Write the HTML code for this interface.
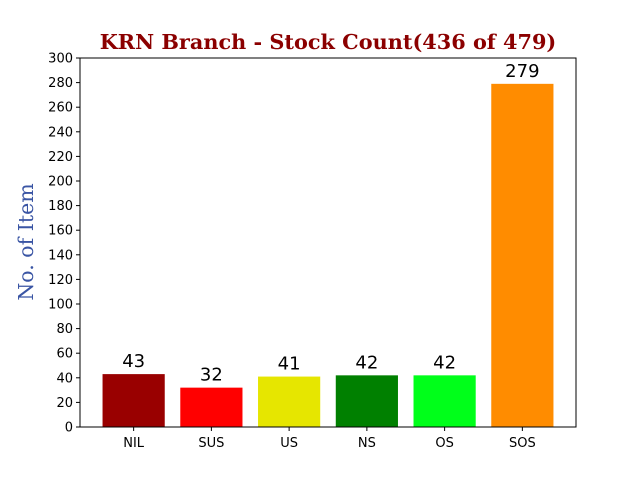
<!DOCTYPE html>
<html><head><meta charset="utf-8"><style>
body{margin:0;background:#fff}
svg text{font-family:"DejaVu Sans","Liberation Sans",sans-serif}
</style></head><body>
<svg id="chart" width="640" height="480" xmlns="http://www.w3.org/2000/svg">
<rect width="640" height="480" fill="#fff"/>
<text x="328" y="49" text-anchor="middle" font-size="20.8" font-weight="bold" fill="#8b0000" style="font-family:'DejaVu Serif','Liberation Serif',serif">KRN Branch - Stock Count(436 of 479)</text>
<text transform="translate(33,242) rotate(-90)" text-anchor="middle" font-size="20.5" fill="#3a55a4" style="font-family:'DejaVu Serif','Liberation Serif',serif">No. of Item</text>
<g id="bars"></g><g id="yticks"></g><g id="xticks"></g>
<rect x="80" y="58" width="496" height="369" fill="none" stroke="#000" stroke-width="1"/>
</svg>
<script>
const categories=["NIL","SUS","US","NS","OS","SOS"];
const values=[43,32,41,42,42,279];
const colors=["#990000","#ff0000","#e6e600","#008000","#00ff1a","#ff8c00"];
const yTicks=[0,20,40,60,80,100,120,140,160,180,200,220,240,260,280,300];
const L=80,R=576,T=58,B=427,ymax=300,xmin=-0.69,xmax=5.69;
const ns="http://www.w3.org/2000/svg";
const y=v=>B-(v/ymax)*(B-T);
const x=i=>L+(i-xmin)/(xmax-xmin)*(R-L);
const bw=0.8*(R-L)/(xmax-xmin);
function mk(t,a,p){const e=document.createElementNS(ns,t);for(const k in a)e.setAttribute(k,a[k]);p.appendChild(e);return e;}
const gb=document.getElementById('bars'),gy=document.getElementById('yticks'),gx=document.getElementById('xticks');
categories.forEach((c,i)=>{
 const r=mk('rect',{x:x(i)-bw/2,y:y(values[i]),width:bw,height:B-y(values[i]),fill:colors[i]},gb);
 
 
 const t=mk('text',{x:x(i),y:y(values[i])-7,'text-anchor':'middle','font-size':'18',fill:'#000'},gb);
 t.textContent=values[i];
 
 
 mk('line',{x1:x(i),x2:x(i),y1:B,y2:B+4,stroke:'#000'},gx);
 const xl=mk('text',{x:x(i),y:B+20,'text-anchor':'middle','font-size':'13',fill:'#000'},gx);
 xl.textContent=c;
 
 
});
yTicks.forEach(v=>{
 mk('line',{x1:L-4,x2:L,y1:y(v),y2:y(v),stroke:'#000'},gy);
 const t=mk('text',{x:L-7,y:y(v)+4.5,'text-anchor':'end','font-size':'13',fill:'#000'},gy);
 t.textContent=v;
 
 
});
</script>
</body></html>
